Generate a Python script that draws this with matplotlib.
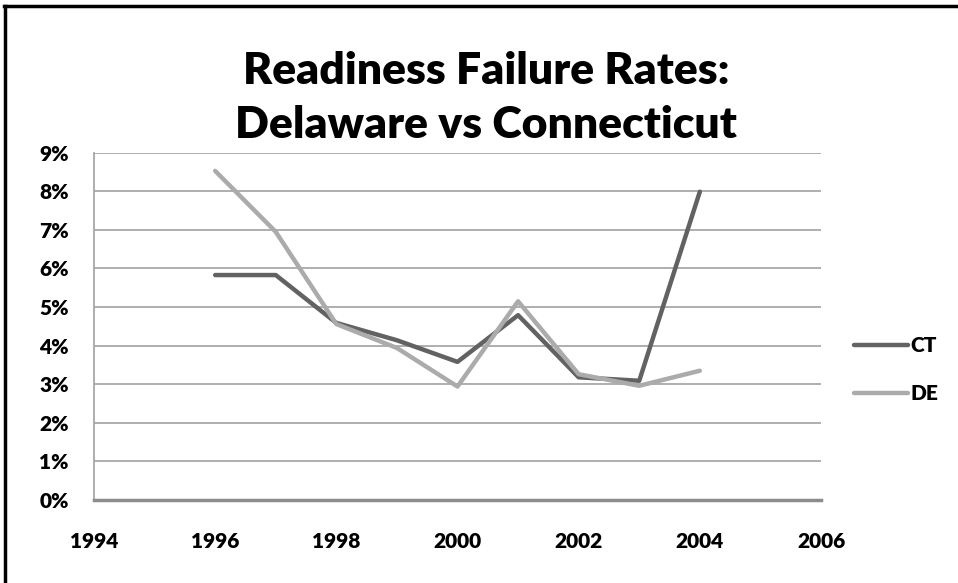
import matplotlib.pyplot as plt
from matplotlib.lines import Line2D
from matplotlib.ticker import PercentFormatter

years = [1996, 1997, 1998, 1999, 2000, 2001, 2002, 2003, 2004]
ct_rates = [5.83, 5.83, 4.59, 4.14, 3.58, 4.79, 3.18, 3.09, 7.99]
de_rates = [8.53, 6.95, 4.56, 3.94, 2.94, 5.15, 3.26, 2.96, 3.35]
x_ticks = [1994, 1996, 1998, 2000, 2002, 2004, 2006]
y_ticks = list(range(0, 10))

plt.rcParams['font.family'] = ['Lato', 'DejaVu Sans']

fig = plt.figure(figsize=(9.58, 5.83), dpi=100)
ax = fig.add_axes([0.0981, 0.1424, 0.7589, 0.5956])

ax.plot(years, ct_rates, color="#626262", lw=3.2, label="CT", solid_capstyle="round")
ax.plot(years, de_rates, color="#ababab", lw=3.2, label="DE", solid_capstyle="round")

ax.set_xlim(1994, 2006)
ax.set_ylim(0, 9)
ax.set_xticks(x_ticks)
ax.set_yticks(y_ticks)
ax.yaxis.set_major_formatter(PercentFormatter(decimals=0))
ax.grid(axis="y", color="#a8a8a8", lw=1.3)
ax.set_axisbelow(True)
ax.tick_params(length=0, labelsize=15)
ax.tick_params(axis="x", pad=23)
ax.tick_params(axis="y", pad=18)
for lab in ax.get_xticklabels() + ax.get_yticklabels():
    lab.set_fontweight("heavy")

for s in ["top", "right"]:
    ax.spines[s].set_visible(False)
ax.spines["left"].set_color("#a8a8a8")
ax.spines["left"].set_linewidth(1.3)
ax.spines["bottom"].set_color("#8c8c8c")
ax.spines["bottom"].set_linewidth(2.5)

leg = ax.legend(loc="center left", bbox_to_anchor=(1.02, 0.375), frameon=False,
                handlelength=2.6, handletextpad=0.1, labelspacing=1.4,
                prop={"size": 15, "weight": "heavy"})

fig.text(0.5075, 0.832, "Readiness Failure Rates:\nDelaware vs Connecticut",
         ha="center", va="center", fontsize=32, fontweight="heavy", linespacing=1.4)

# black frame on top and left edges
fig.add_artist(Line2D([0.005, 0.005], [0, 0.99], color="black", lw=2.5, transform=fig.transFigure))
fig.add_artist(Line2D([0.004, 1], [0.99, 0.99], color="black", lw=2.5, transform=fig.transFigure))

fig.savefig("out.png", dpi=100)
